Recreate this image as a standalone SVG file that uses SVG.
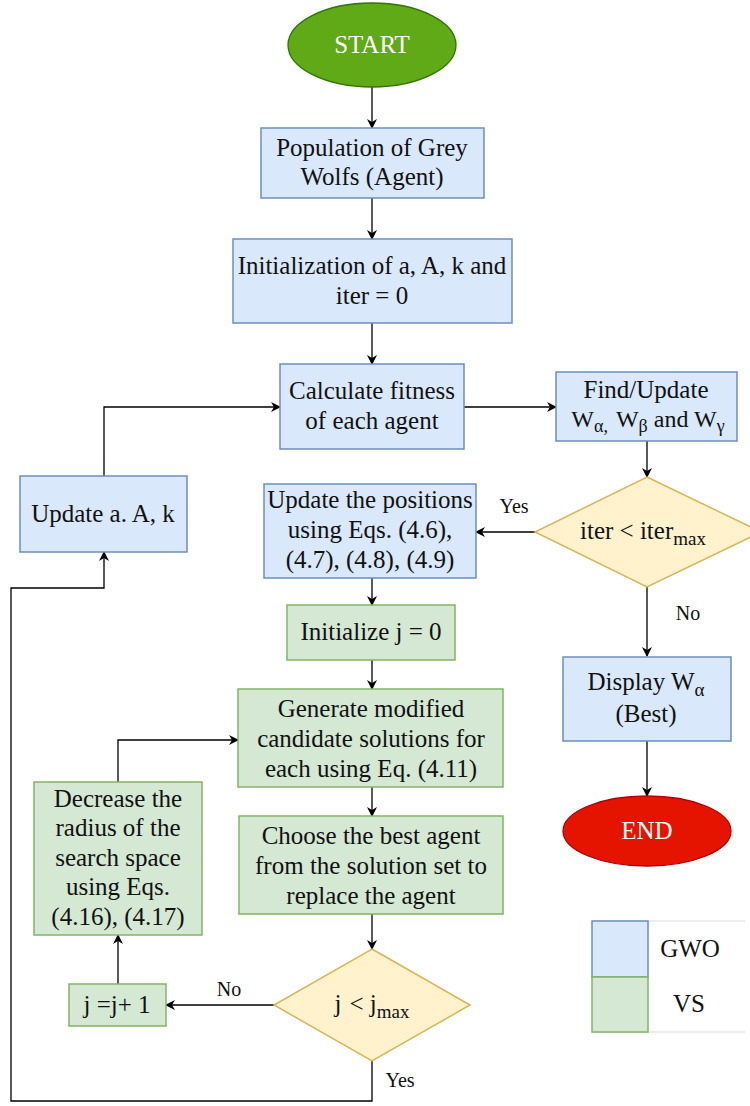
<svg xmlns="http://www.w3.org/2000/svg" width="750" height="1106" viewBox="0 0 750 1106">
<defs>
<marker id="ah" markerWidth="10" markerHeight="10" refX="9" refY="5" orient="auto" markerUnits="userSpaceOnUse">
<path d="M0,0 L10,5 L0,10 L3,5 Z" fill="#000"/>
</marker>
<style>
text{font-family:"Liberation Serif","Times New Roman",serif;font-size:25px;fill:#111;text-anchor:middle}
.b{fill:#dae8fc;stroke:#6c8ebf;stroke-width:1.5}
.g{fill:#d5e8d4;stroke:#82b366;stroke-width:1.5}
.y{fill:#fff2cc;stroke:#d6b656;stroke-width:1.5}
.c{fill:none;stroke:#000;stroke-width:1.3;marker-end:url(#ah)}
.s{font-size:20px}
.sub{font-size:19px}
.w{fill:#fff}
</style>
</defs>
<rect width="750" height="1106" fill="#fff"/>
<g id="connectors">
<path class="c" d="M372,87 V128"/>
<path class="c" d="M372,198 V239"/>
<path class="c" d="M372,323 V364"/>
<path class="c" d="M464,407 H556"/>
<path class="c" d="M647,441 V477"/>
<path class="c" d="M535,532 H476"/>
<path class="c" d="M647,587 V656"/>
<path class="c" d="M647,741 V796"/>
<path class="c" d="M372,578 V605"/>
<path class="c" d="M372,660 V689"/>
<path class="c" d="M372,787 V816"/>
<path class="c" d="M372,914 V949"/>
<path class="c" d="M274,1005 H166"/>
<path class="c" d="M118,984 V935"/>
<path class="c" d="M118,782 V740 H238"/>
<path class="c" d="M372,1061 V1101 H11 V588 H104 V552"/>
<path class="c" d="M104,476 V407 H280"/>
<text class="s" x="514" y="513">Yes</text>
<text class="s" x="688" y="620">No</text>
<text class="s" x="229" y="996">No</text>
<text class="s" x="400" y="1087">Yes</text>
</g>
<g id="start">
<ellipse cx="372" cy="45" rx="84" ry="42" fill="#60a917" stroke="#2d7600" stroke-width="1.3"/>
<text class="w" x="372" y="53">START</text>
</g>
<g id="population">
<rect class="b" x="261" y="128" width="223" height="70"/>
<text x="372" y="156">Population of Grey</text>
<text x="372" y="185">Wolfs (Agent)</text>
</g>
<g id="init">
<rect class="b" x="233" y="239" width="279" height="84"/>
<text x="372" y="274">Initialization of a, A, k and</text>
<text x="372" y="304">iter = 0</text>
</g>
<g id="fitness">
<rect class="b" x="280" y="364" width="184" height="85"/>
<text x="372" y="399">Calculate fitness</text>
<text x="372" y="429">of each agent</text>
</g>
<g id="find">
<rect class="b" x="556" y="372" width="181" height="69"/>
<text x="646" y="398">Find/Update</text>
<text x="648" y="427" style="font-size:24px">W<tspan style="font-size:18px" dy="5">α,</tspan><tspan dy="-5" dx="8">W</tspan><tspan style="font-size:18px" dy="5">β</tspan><tspan dy="-5"> and W</tspan><tspan style="font-size:18px" dy="5">γ</tspan></text>
</g>
<g id="iter-decision">
<polygon class="y" points="647,477 761,532 647,587 535,532"/>
<text x="643" y="539">iter &lt; iter<tspan class="sub" dy="6">max</tspan></text>
</g>
<g id="update-aAk">
<rect class="b" x="20" y="476" width="167" height="76"/>
<text x="103" y="522">Update a. A, k</text>
</g>
<g id="update-positions">
<rect class="b" x="264" y="484" width="212" height="94"/>
<text x="370" y="508">Update the positions</text>
<text x="370" y="538">using Eqs. (4.6),</text>
<text x="370" y="568">(4.7), (4.8), (4.9)</text>
</g>
<g id="init-j">
<rect class="g" x="287" y="605" width="168" height="55"/>
<text x="371" y="640">Initialize j = 0</text>
</g>
<g id="generate">
<rect class="g" x="238" y="689" width="265" height="98"/>
<text x="371" y="717">Generate modified</text>
<text x="371" y="747">candidate solutions for</text>
<text x="371" y="777">each using Eq. (4.11)</text>
</g>
<g id="choose">
<rect class="g" x="239" y="816" width="264" height="98"/>
<text x="371" y="844">Choose the best agent</text>
<text x="371" y="874">from the solution set to</text>
<text x="371" y="904">replace the agent</text>
</g>
<g id="j-decision">
<polygon class="y" points="372,949 470,1005 372,1061 274,1005"/>
<text x="372" y="1012">j<tspan dx="8">&lt;</tspan> j<tspan class="sub" dy="6">max</tspan></text>
</g>
<g id="j-inc">
<rect class="g" x="69" y="984" width="97" height="42"/>
<text x="117" y="1013">j =j+ 1</text>
</g>
<g id="decrease">
<rect class="g" x="34" y="782" width="168" height="153"/>
<text x="118" y="807">Decrease the</text>
<text x="118" y="836">radius of the</text>
<text x="118" y="866">search space</text>
<text x="118" y="895">using Eqs.</text>
<text x="118" y="925">(4.16), (4.17)</text>
</g>
<g id="display">
<rect class="b" x="563" y="657" width="168" height="84"/>
<text x="646" y="690">Display W<tspan style="font-size:19px" dy="6">α</tspan></text>
<text x="646" y="722">(Best)</text>
</g>
<g id="end">
<ellipse cx="647" cy="831" rx="84" ry="35" fill="#e51400" stroke="#b20000" stroke-width="1.3"/>
<text class="w" x="647" y="839">END</text>
</g>
<g id="legend">
<line x1="592" y1="921" x2="745" y2="921" stroke="#ddd" stroke-width="1"/>
<line x1="592" y1="1032" x2="745" y2="1032" stroke="#ddd" stroke-width="1"/>
<rect class="b" x="592" y="921" width="56" height="56"/>
<rect class="g" x="592" y="977" width="56" height="55"/>
<text x="690" y="957">GWO</text>
<text x="689" y="1012">VS</text>
</g>
</svg>
